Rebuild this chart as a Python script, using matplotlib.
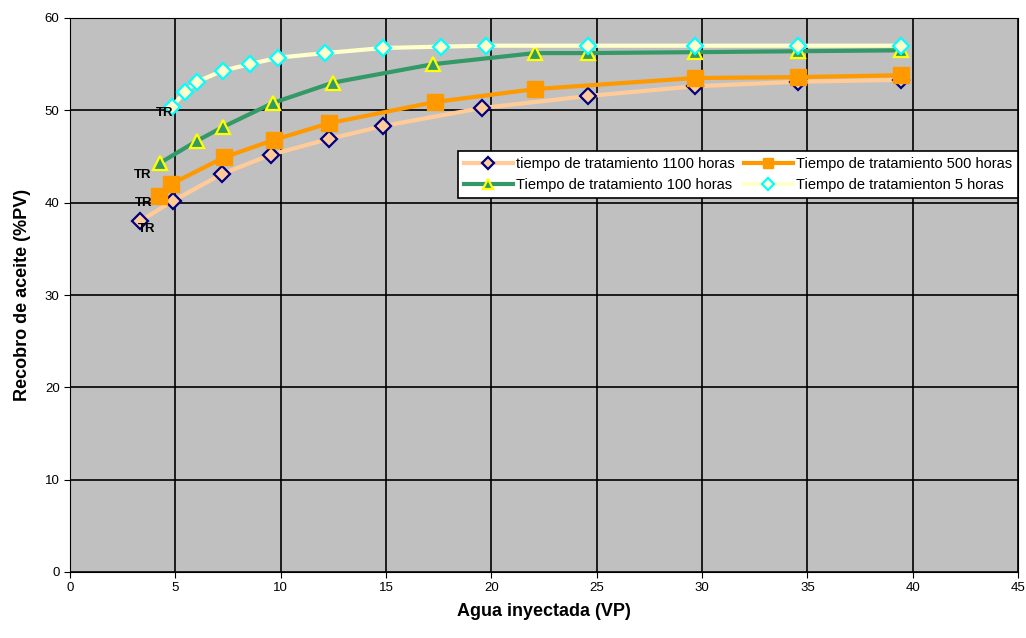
import numpy as np
import matplotlib.pyplot as plt

# data
x1100 = [3.32, 4.89, 7.21, 9.54, 12.29, 14.86, 19.55, 24.58, 29.66, 34.55, 39.44]
y1100 = [38.0, 40.2, 43.1, 45.2, 46.9, 48.3, 50.25, 51.55, 52.6, 53.1, 53.3]

x500 = [4.22, 4.79, 7.31, 9.68, 12.29, 17.32, 22.07, 29.66, 34.55, 39.44]
y500 = [40.7, 42.0, 44.9, 46.8, 48.6, 50.9, 52.3, 53.5, 53.6, 53.8]

x100 = [4.27, 6.03, 7.26, 9.63, 12.48, 17.23, 22.07, 24.58, 29.66, 34.55, 39.44]
y100 = [44.3, 46.7, 48.2, 50.8, 53.0, 55.0, 56.2, 56.2, 56.3, 56.4, 56.5]

x5 = [4.84, 5.46, 6.03, 7.26, 8.54, 9.87, 12.1, 14.86, 17.6, 19.74, 24.58, 29.66, 34.55, 39.44]
y5 = [50.4, 52.0, 53.1, 54.3, 55.0, 55.7, 56.2, 56.75, 56.9, 57.0, 57.0, 57.0, 57.0, 57.0]

tr_labels = ["TR", "TR", "TR", "TR"]

fnt = 'Liberation Sans'

fig = plt.figure(figsize=(10.26, 6.38), dpi=100)
ax = fig.add_axes([70/1026, 66/638, 948/1026, 554/638])
ax.set_facecolor('#C0C0C0')

l1, = ax.plot(x1100, y1100, color='#FFCC99', lw=3, marker='D', ms=8.5,
              mfc='#FFCC99', mec='#000080', mew=1.6, zorder=3)
l2, = ax.plot(x500, y500, color='#FF9900', lw=3, marker='s', ms=11,
              mfc='#FF9900', mec='#FF9900', zorder=4)
l3, = ax.plot(x100, y100, color='#339966', lw=3, marker='^', ms=10.5,
              mfc='#339966', mec='#FFFF00', mew=1.6, zorder=3)
l4, = ax.plot(x5, y5, color='#FFFFCC', lw=3, marker='D', ms=8.5,
              mfc='#FFFFCC', mec='#00FFFF', mew=1.6, zorder=5)

# TR annotations near first points
ax.text(x5[0] + 0.05, y5[0] - 0.7, tr_labels[0], ha='right', va='center', fontsize=9.5,
        fontweight='bold', family=fnt, zorder=6)
ax.text(x100[0] - 0.4, y100[0] - 1.3, tr_labels[1], ha='right', va='center', fontsize=9.5,
        fontweight='bold', family=fnt, zorder=6)
ax.text(x500[0] - 0.3, y500[0] - 0.7, tr_labels[2], ha='right', va='center', fontsize=9.5,
        fontweight='bold', family=fnt, zorder=6)
ax.text(x1100[0] + 0.75, y1100[0] - 0.9, tr_labels[3], ha='right', va='center', fontsize=9.5,
        fontweight='bold', family=fnt, zorder=6)

ax.set_xlim(0, 45)
ax.set_ylim(0, 60)
ax.set_xticks(np.arange(0, 46, 5))
ax.set_yticks(np.arange(0, 61, 10))
ax.grid(True, color='black', lw=1.2)
ax.set_axisbelow(True)
for s in ax.spines.values():
    s.set_color('black')
ax.tick_params(labelsize=9.5, length=4, color='black')
for lab in ax.get_xticklabels() + ax.get_yticklabels():
    lab.set_family(fnt)

ax.set_xlabel('Agua inyectada (VP)', fontsize=13, fontweight='bold', family=fnt, labelpad=6)
ax.set_ylabel('Recobro de aceite (%PV)', fontsize=13, fontweight='bold', family=fnt, labelpad=10)

leg = ax.legend([l1, l3, l2, l4],
                ['tiempo de tratamiento 1100 horas', 'Tiempo de tratamiento 100 horas',
                 'Tiempo de tratamiento 500 horas', 'Tiempo de tratamienton 5 horas'],
                ncol=2, loc='upper right', bbox_to_anchor=(1.0, 0.76), borderaxespad=0,
                fancybox=False, framealpha=1, edgecolor='black',
                prop={'family': fnt, 'size': 10.5},
                borderpad=0.4, handlelength=3.4, handletextpad=0.2,
                columnspacing=0.6, labelspacing=0.5, markerscale=0.7)
leg.get_frame().set_linewidth(1.2)

fig.savefig('out.png', dpi=100)
